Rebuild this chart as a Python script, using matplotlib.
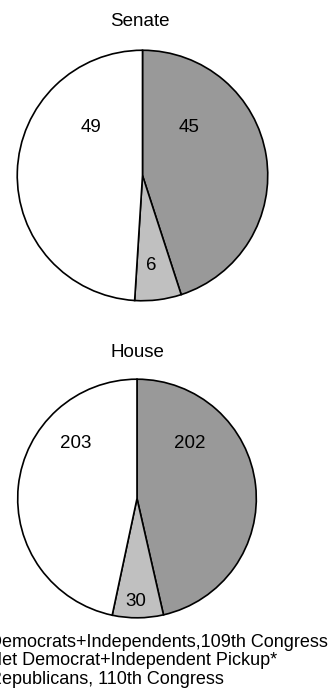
import matplotlib as mpl
import matplotlib.pyplot as plt
from matplotlib.patches import Patch

mpl.rcParams['font.family'] = ['Liberation Sans', 'DejaVu Sans']
mpl.rcParams['font.size'] = 13

# data
series = ["Democrats+Independents,109th Congress",
          "Net Democrat+Independent Pickup*",
          "Republicans, 110th Congress"]
senate = [45, 6, 49]
house = [202, 30, 203]
colors = ["#999999", "#c0c0c0", "#ffffff"]

W, H = 331, 694
fig = plt.figure(figsize=(W / 100, H / 100), dpi=100)


def pie_axes(cx, cy, r):
    # pixel centre/radius -> figure fraction axes
    ax = fig.add_axes([(cx - r) / W, (H - cy - r) / H, 2 * r / W, 2 * r / H])
    ax.set_aspect("equal")
    ax.axis("off")
    return ax


def draw(ax, vals, label_pos):
    ax.pie(vals, colors=colors, startangle=90, counterclock=False, radius=1,
           wedgeprops=dict(edgecolor="black", linewidth=1.2))
    ax.set_xlim(-1.01, 1.01)
    ax.set_ylim(-1.01, 1.01)
    for v, (x, y) in zip(vals, label_pos):
        ax.text(x, y, str(v), ha="center", va="center", fontsize=13.5)


ax1 = pie_axes(142.5, 175.5, 126.5)
draw(ax1, senate, [(0.375, 0.38), (0.067, -0.715), (-0.415, 0.38)])
fig.text(139.5 / W, 1 - 21 / H, "Senate", ha="center", va="center", fontsize=13.5)

ax2 = pie_axes(137, 498.5, 120.5)
draw(ax2, house, [(0.44, 0.465), (-0.008, -0.865), (-0.515, 0.465)])
fig.text(137 / W, 1 - 352.5 / H, "House", ha="center", va="center", fontsize=13.5)

# legend markers fall off the left edge, as in the original
handles = [Patch(facecolor=c, edgecolor="black") for c in colors]
fig.legend(handles, series, loc="upper left", bbox_to_anchor=(-38 / W, 1 - 634 / H),
           frameon=False, fontsize=13, borderpad=0, borderaxespad=0,
           handlelength=1.0, handletextpad=0.5, labelspacing=0.08)

fig.savefig("out.png", dpi=100)
